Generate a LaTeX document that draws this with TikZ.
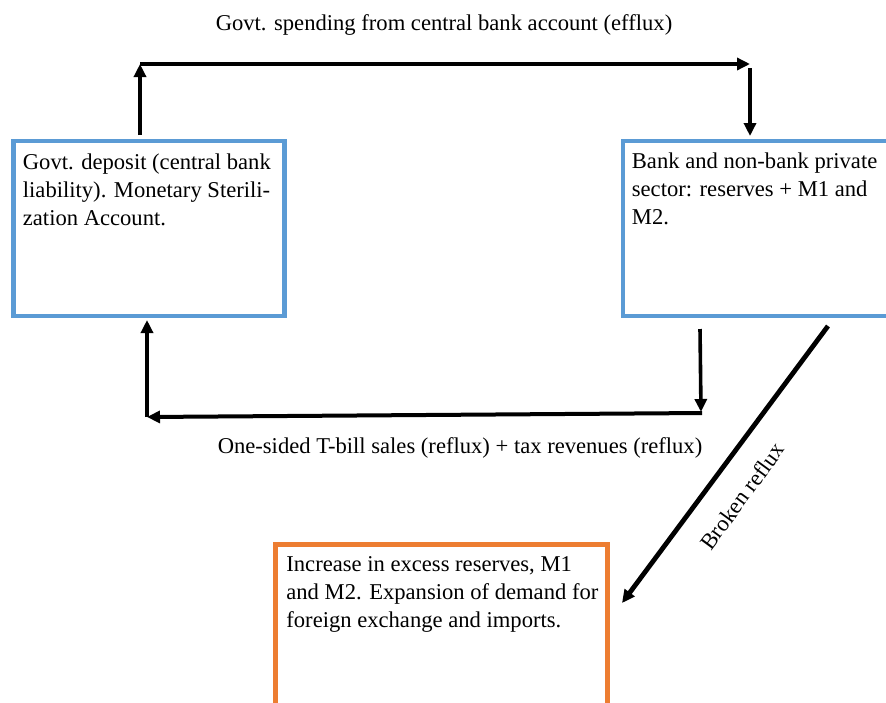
\documentclass[tikz,border=0pt]{standalone}
\usepackage{fontspec}
\setmainfont{Liberation Serif}
\usetikzlibrary{arrows.meta,fit}
\definecolor{boxblue}{HTML}{5B9BD5}
\definecolor{boxorange}{HTML}{ED7D31}
\tikzset{
  boxnode/.style={draw=#1, line width=2.4pt, inner sep=0pt, outer sep=0pt},
  boxtext/.style={anchor=north west, inner sep=0pt, align=left, font=\fontsize{11.3}{14}\selectfont},
  lbl/.style={inner sep=0pt, font=\fontsize{11.3}{14}\selectfont},
  arr/.style={line width=2pt, -{Triangle[length=6.5pt,width=6pt]}},
  arrthin/.style={line width=1.8pt, -{Triangle[length=6.5pt,width=6pt]}},
}
\begin{document}
\begin{tikzpicture}[x=0.5pt,y=-0.5pt]
\clip (0,0) rectangle (886,702);
\fill[white] (0,0) rectangle (886,702);
% boxes
\node[boxnode=boxblue, fit={(13.5,141) (284.5,316)}] (gov) {};
\node[boxnode=boxblue, fit={(623,141) (900,316)}] (bank) {};
\node[boxnode=boxorange, fit={(275.5,544.5) (607.5,720)}] (inc) {};
% box texts
\node[boxtext] (govtxt) at (22.5,153) {Govt. deposit (central bank\\liability). Monetary Sterili-\\zation Account.};
\node[boxtext] (banktxt) at (631.5,152) {Bank and non-bank private\\sector: reserves + M1 and\\M2.};
\node[boxtext] (inctxt) at (286,556) {Increase in excess reserves, M1\\and M2. Expansion of demand for\\foreign exchange and imports.};
% corner coordinates
\coordinate (tl) at (140,64);
\coordinate (tr) at (750,64);
\coordinate (tr2) at (750,68);
\coordinate (bt) at (700,329);
\coordinate (br) at (701,412);
\coordinate (br2) at (702,413);
\coordinate (bl) at (147,417);
\coordinate (ds) at (828,326);
\coordinate (de) at (622,603);
% top loop (efflux)
\draw[arr, shorten <=3pt] (gov.north -| tl) -- (tl);
\draw[arr] (tl) -- (tr);
\draw[arr, shorten >=2.5pt] (tr2) -- (bank.north -| tr2);
% bottom loop (reflux)
\draw[arrthin] (bt) -- (br);
\draw[arr] (br2) -- (bl);
\draw[arr, shorten >=2pt] (bl) -- (gov.south -| bl);
% broken reflux
\draw[arr, line width=2.4pt] (ds) -- (de);
% labels
\node[lbl, anchor=base] (eff) at (444,30) {Govt. spending from central bank account (efflux)};
\node[lbl, anchor=base] (ref) at (460,453) {One-sided T-bill sales (reflux) + tax revenues (reflux)};
\node[lbl, rotate=53.7] (brk) at (742,496) {Broken reflux};
\end{tikzpicture}
\end{document}
